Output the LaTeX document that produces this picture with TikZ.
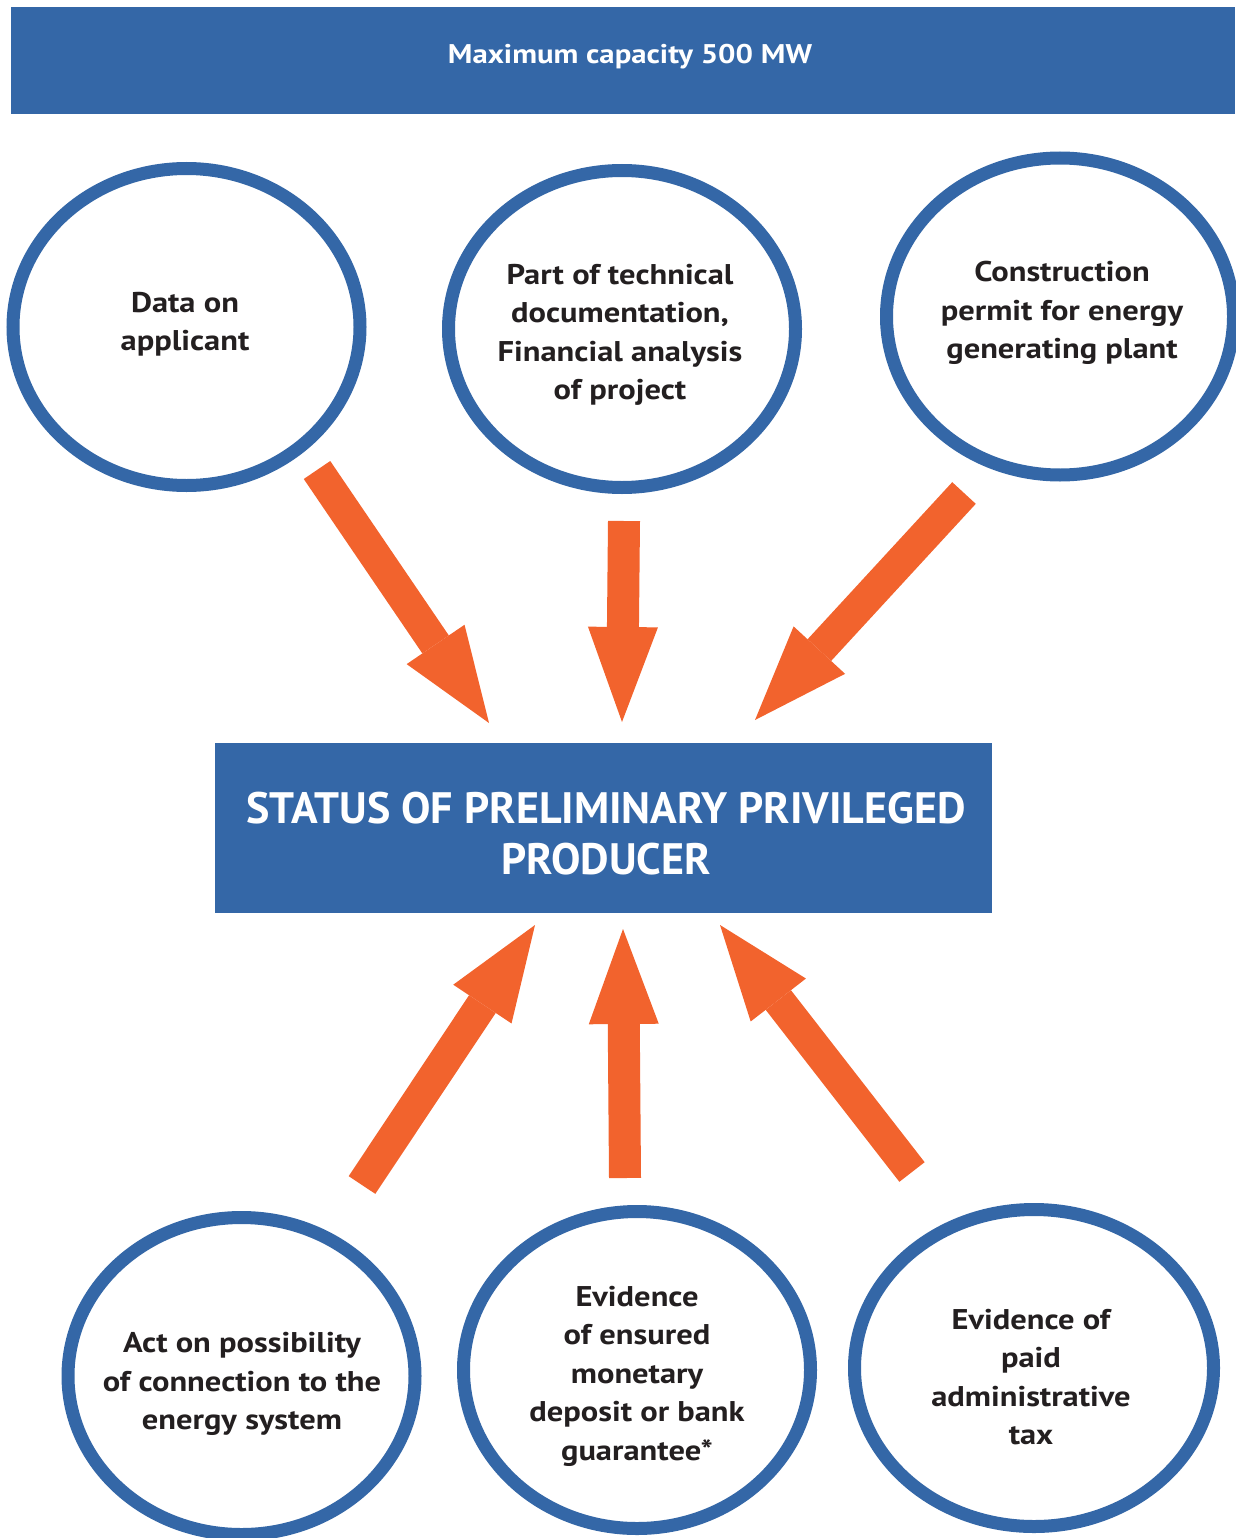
\documentclass[tikz,border=0pt]{standalone}
\usepackage{fontspec}
\setmainfont{PT Sans}
\newfontfamily\widefont[FakeStretch=1.14]{PT Sans}
\usetikzlibrary{shapes.geometric,arrows.meta}
\definecolor{myblue}{RGB}{52,103,167}
\definecolor{myorange}{RGB}{242,99,45}
\definecolor{mytext}{RGB}{35,31,32}
\tikzset{
  bubble/.style={ellipse, draw=myblue, line width=13pt, fill=white, inner sep=0pt,
    minimum width=347pt, minimum height=317pt},
  btext/.style={align=center, font=\fontsize{28.5}{38.5}\widefont\bfseries, text=mytext, inner sep=0pt},
  bigarrow/.style={draw=myorange, line width=32pt, line cap=butt,
    -{Triangle[length=95pt,width=70pt,line width=0pt]}},
  bluebox/.style={fill=myblue, draw=none, inner sep=0pt}
}
\begin{document}
\begin{tikzpicture}[x=1pt,y=-1pt]
\useasboundingbox (0,0) rectangle (1235,1538);
% banner
\node[bluebox, minimum width=1224pt, minimum height=107pt] (banner) at (623,60.5) {};
\node[text=white, font=\fontsize{27}{30}\widefont\bfseries, inner sep=0pt] (bannertext) at (630,57) {Maximum capacity 500 MW};
% central box
\node[bluebox, minimum width=777pt, minimum height=170pt] (status) at (603.5,828) {};
\node[text=white, align=center, font=\fontsize{44}{51}\selectfont\bfseries, inner sep=0pt] (statustext) at (606,834) {STATUS OF PRELIMINARY PRIVILEGED\\PRODUCER};
% bubbles
\node[bubble] (c1) at (186.5,327) {};
\node[bubble] (c2) at (622,329) {};
\node[bubble] (c3) at (1060,316.5) {};
\node[bubble] (c4) at (241.5,1376) {};
\node[bubble] (c5) at (637,1370) {};
\node[bubble, minimum width=359pt] (c6) at (1034,1368) {};
\node[btext] (t1) at (185,324) {Data on\\applicant};
\node[btext] (t2) at (620,335) {Part of technical\\documentation,\\Financial analysis\\of project};
\node[btext] (t3) at (1062,313) {Construction\\permit for energy\\generating plant};
\node[btext] (t4) at (242,1384) {Act on possibility\\of connection to the\\energy system};
\node[btext] (t5) at (637,1376) {Evidence\\of ensured\\monetary\\deposit or bank\\guarantee*};
\node[btext] (t6) at (1031,1377) {Evidence of\\paid\\administrative\\tax};
% arrow endpoints
\coordinate (a1s) at (317,470);
\coordinate (a1e) at (489,723);
\coordinate (a2s) at (624,521);
\coordinate (a2e) at (622,722);
\coordinate (a3s) at (964,493);
\coordinate (a3e) at (755,720);
\coordinate (a4s) at (362,1185);
\coordinate (a4e) at (535,925);
\coordinate (a5s) at (625,1178);
\coordinate (a5e) at (623,929);
\coordinate (a6s) at (912,1172);
\coordinate (a6e) at (720,925);
\draw[bigarrow] (a1s) -- (a1e);
\draw[bigarrow] (a2s) -- (a2e);
\draw[bigarrow] (a3s) -- (a3e);
\draw[bigarrow] (a4s) -- (a4e);
\draw[bigarrow] (a5s) -- (a5e);
\draw[bigarrow] (a6s) -- (a6e);
\end{tikzpicture}
\end{document}
